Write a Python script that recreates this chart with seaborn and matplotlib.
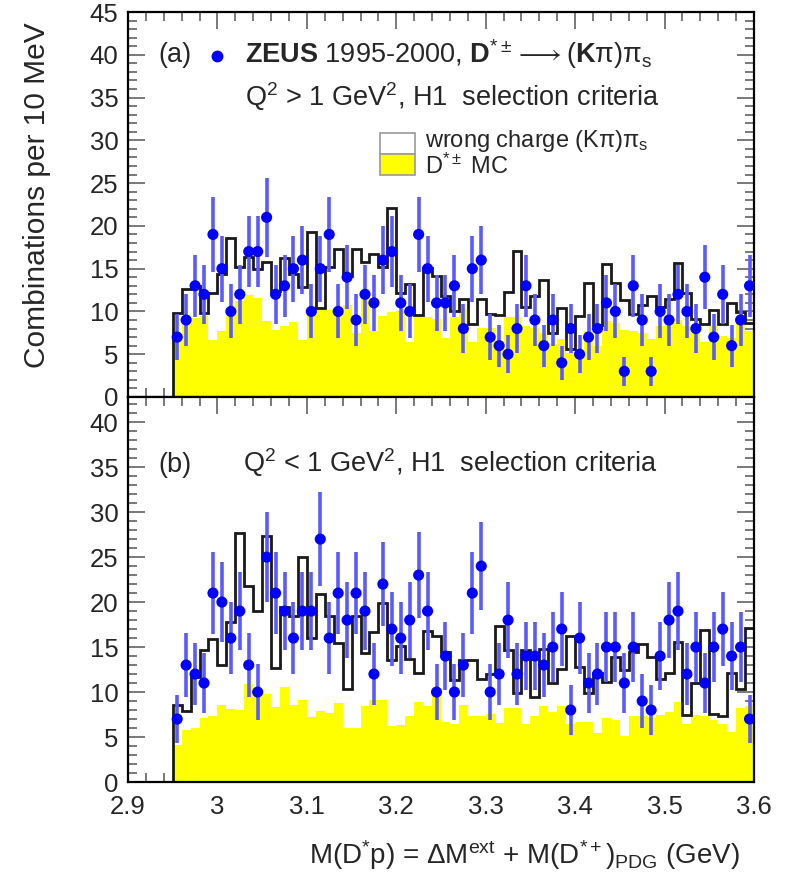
import numpy as np
import pandas as pd
import matplotlib
matplotlib.use("Agg")
import matplotlib.pyplot as plt
import seaborn as sns
from matplotlib.patches import Rectangle
from matplotlib.ticker import MultipleLocator, FuncFormatter

# 10 MeV bins in M(D*p) from 2.95 to 3.60 GeV
edges = np.round(np.linspace(2.95, 3.60, 66), 3)
centers = 0.5 * (edges[:-1] + edges[1:])

# (a) Q^2 > 1 GeV^2
dis_data = [7, 9, 13, 12, 19, 15, 10, 12, 17, 17, 21, 12, 13, 15, 16, 10, 15,
            19, 10, 14, 9, 12, 11, 16, 17, 11, 10, 19, 15, 11, 11, 13, 8,
            15, 16, 7, 6, 5, 8, 13, 9, 6, 9, 4, 8, 5, 7, 8, 11, 10, 3, 13,
            9, 3, 10, 9, 12, 10, 8, 14, 7, 12, 6, 9, 13]
dis_wrong = [9.8, 12.6, 13.0, 9.8, 12.2, 14.4, 18.6, 15.2, 16.4, 15.0, 15.8,
             12.4, 16.2, 14.4, 12.8, 19.3, 10.4, 15.2, 17.3, 14.2, 17.3, 15.8,
             16.7, 15.2, 22.1, 12.1, 13.2, 9.6, 15.1, 14.2, 11.8, 10.1, 11.5,
             8.5, 11.5, 9.7, 9.6, 12.3, 17.1, 10.5, 11.8, 13.7, 7.5, 10.4, 5.6,
             9.5, 13.3, 8.4, 15.5, 13.3, 11.3, 9.7, 10.7, 11.8, 10.5, 11.5,
             15.7, 12.2, 9.1, 8.5, 10.2, 8.5, 11.0, 9.9, 8.7]
dis_mc = [6.5, 8.4, 9.2, 9.5, 6.7, 7.7, 9.5, 11.2, 11.9, 11.6, 8.9, 7.8, 8.3,
          8.8, 6.7, 10.1, 10.3, 10.2, 9.5, 10.7, 7.5, 11.5, 7.7, 9.5, 9.9, 10.1,
          6.4, 9.5, 9.3, 9.1, 6.9, 9.3, 10.3,
          6.4, 8.1, 8.1, 6.5, 9.3, 9.3, 8.3, 8.1, 7.5, 6.2, 6.8, 5.2, 4.6, 7.7,
          6.0, 8.9, 8.7, 7.8, 7.7, 7.5, 6.8, 8.3, 9.3, 9.0, 8.3, 7.5, 6.4, 8.3,
          7.1, 6.9, 8.7, 7.7]

# (b) Q^2 < 1 GeV^2
php_data = [7, 13, 12, 11, 21, 20, 16, 19, 13, 10, 25, 21, 19, 16, 19, 19, 27,
            16, 21, 18, 21, 19, 12, 22, 17, 16, 18, 23, 19, 10, 14, 10, 13,
            21, 24, 10, 12, 18, 12, 14, 14, 13, 15, 17, 8, 16, 11, 12, 15, 15,
            11, 15, 9, 8, 14, 18, 19, 12, 15, 11, 15, 17, 14, 15, 7]
php_wrong = [8.6, 7.9, 11.7, 14.7, 15.9, 13.0, 17.8, 27.7, 21.8, 19.0, 27.3,
             12.7, 19.5, 18.4, 25.0, 16.0, 20.9, 18.4, 15.4, 10.3, 18.4, 14.3,
             16.7, 19.9, 13.6, 15.1, 13.7, 12.1, 16.8, 16.2, 14.4, 11.3, 13.6,
             13.6, 11.4, 12.0, 17.3, 14.7, 9.9, 14.7, 9.4, 14.8, 11.0, 12.6,
             16.2, 12.8, 9.9, 12.1, 11.1, 13.9, 12.4, 14.5, 15.3, 13.9, 11.5,
             12.1, 15.6, 7.4, 11.0, 16.9, 7.6, 7.3, 12.1, 10.3, 17.1]
php_mc = [4.1, 5.8, 6.0, 7.1, 7.3, 8.6, 8.1, 8.0, 10.9, 9.5, 9.8, 8.3, 10.6,
          8.6, 9.1, 7.2, 7.9, 7.7, 8.8, 6.0, 6.0, 8.4, 9.1, 9.1, 6.2, 6.3, 7.3,
          8.9, 8.4, 9.7, 6.7, 6.5, 8.6,
          7.3, 7.3, 7.6, 6.6, 8.2, 8.2, 6.5, 7.3, 8.4, 7.8, 8.4, 6.5, 6.7, 6.7,
          5.5, 7.1, 6.9, 5.1, 7.3, 7.3, 7.1, 7.4, 7.8, 8.9, 6.5, 7.4, 7.3, 6.9,
          6.4, 5.6, 8.2, 8.4]

x_ticks = [2.9, 3.0, 3.1, 3.2, 3.3, 3.4, 3.5, 3.6]

YELLOW = "#ffff00"
BLUE = "#0000ff"
BAR_BLUE = "#5a5aff"
STEP = "#1a1a1a"

sns.set_style("ticks")
plt.rcParams["font.family"] = ["Liberation Sans", "DejaVu Sans"]
plt.rcParams["mathtext.fontset"] = "custom"
plt.rcParams["mathtext.rm"] = "Liberation Sans"
plt.rcParams["mathtext.it"] = "Liberation Sans"
plt.rcParams["mathtext.bf"] = "Liberation Sans:bold"
plt.rcParams["mathtext.sf"] = "Liberation Sans"

W, H = 787, 874
fig = plt.figure(figsize=(W / 100, H / 100), dpi=100)


def fx(px):
    return px / W


def fy(py):
    return 1 - py / H


L, R = 128, 754
ax_a = fig.add_axes([fx(L), fy(397), (R - L) / W, (397 - 12) / H])
ax_b = fig.add_axes([fx(L), fy(782), (R - L) / W, (782 - 397) / H])
bin_list = [float(e) for e in edges]


def draw_panel(ax, data, wrong, mc, ymax):
    df = pd.DataFrame({"mass": centers, "mc": mc, "wrong": wrong,
                       "data": np.asarray(data, dtype=float)})
    sns.histplot(data=df, x="mass", weights="mc", bins=bin_list,
                 element="step", fill=True, color=YELLOW, alpha=1,
                 linewidth=0, ax=ax, zorder=1)
    ax.stairs(df["wrong"].to_numpy(), edges, baseline=0, color=STEP, lw=2.0,
              zorder=2)
    ax.errorbar(df["mass"], df["data"], yerr=np.sqrt(df["data"]), fmt="none",
                ecolor=BAR_BLUE, elinewidth=2.6, capsize=0, zorder=3)
    sns.scatterplot(data=df, x="mass", y="data", color=BLUE, s=64,
                    edgecolor="none", ax=ax, zorder=4)
    ax.set_xlim(2.9, 3.6)
    ax.set_ylim(0, ymax)
    ax.set_xlabel("")
    ax.set_ylabel("")
    ax.xaxis.set_major_locator(MultipleLocator(0.1))
    ax.xaxis.set_minor_locator(MultipleLocator(0.02))
    ax.yaxis.set_major_locator(MultipleLocator(5))
    ax.yaxis.set_minor_locator(MultipleLocator(1))
    ax.tick_params(which="both", direction="in", top=True, right=True,
                   color="#555555", width=1.1, labelsize=18.5)
    ax.tick_params(which="major", length=12.5)
    ax.tick_params(which="minor", length=6.5)
    ax.tick_params(axis="y", pad=7)
    ax.tick_params(axis="x", pad=9)
    for s in ax.spines.values():
        s.set_linewidth(1.6)
        s.set_color("black")


draw_panel(ax_a, dis_data, dis_wrong, dis_mc, 45)
draw_panel(ax_b, php_data, php_wrong, php_mc, 42.8)
ax_a.tick_params(labelbottom=False)
ax_b.set_xticks(x_ticks)
ax_b.xaxis.set_major_formatter(FuncFormatter(lambda v, p: f"{v:g}"))

# panel (a) header
fig.text(fx(158), fy(62), "(a)", fontsize=19.5, va="baseline")
ax_a.plot([fx(217)], [fy(56)], "o", color=BLUE, ms=7.5,
          transform=fig.transFigure, clip_on=False)
fig.text(fx(245), fy(63),
         r"$\mathbf{ZEUS}$ 1995-2000, $\mathbf{D}^{*\pm}\longrightarrow(\mathbf{K}\pi)\pi_{s}$",
         fontsize=19.5, va="baseline")
fig.text(fx(245), fy(106), r"Q$^{2}$ > 1 GeV$^{2}$, H1  selection criteria",
         fontsize=19.5, va="baseline")

# legend
box_w = 35
fig.add_artist(Rectangle((fx(380), fy(154)), box_w / W, 21 / H,
                         transform=fig.transFigure, facecolor="white",
                         edgecolor="#9a9a9a", lw=1.2))
fig.add_artist(Rectangle((fx(380), fy(175)), box_w / W, 21 / H,
                         transform=fig.transFigure, facecolor=YELLOW,
                         edgecolor="#9a9a9a", lw=1.2))
fig.text(fx(425), fy(147), r"wrong charge (K$\pi$)$\pi_{s}$", fontsize=17,
         va="baseline")
fig.text(fx(425), fy(174), r"D$^{*\pm}$ MC", fontsize=17, va="baseline")

# panel (b) header
fig.text(fx(158), fy(472), "(b)", fontsize=19.5, va="baseline")
fig.text(fx(243), fy(472), r"Q$^{2}$ < 1 GeV$^{2}$, H1  selection criteria",
         fontsize=19.5, va="baseline")

# axis titles
fig.text(fx(37), fy(195), "Combinations per 10 MeV", rotation=90,
         fontsize=21.5, ha="center", va="center")
fig.text(fx(740), fy(864),
         r"M(D$^{*}$p) = $\Delta$M$^{\rm ext}$ + M(D$^{*+}$)$_{\rm PDG}$ (GeV)",
         fontsize=20, ha="right", va="baseline")

fig.savefig("out.png", dpi=100)
